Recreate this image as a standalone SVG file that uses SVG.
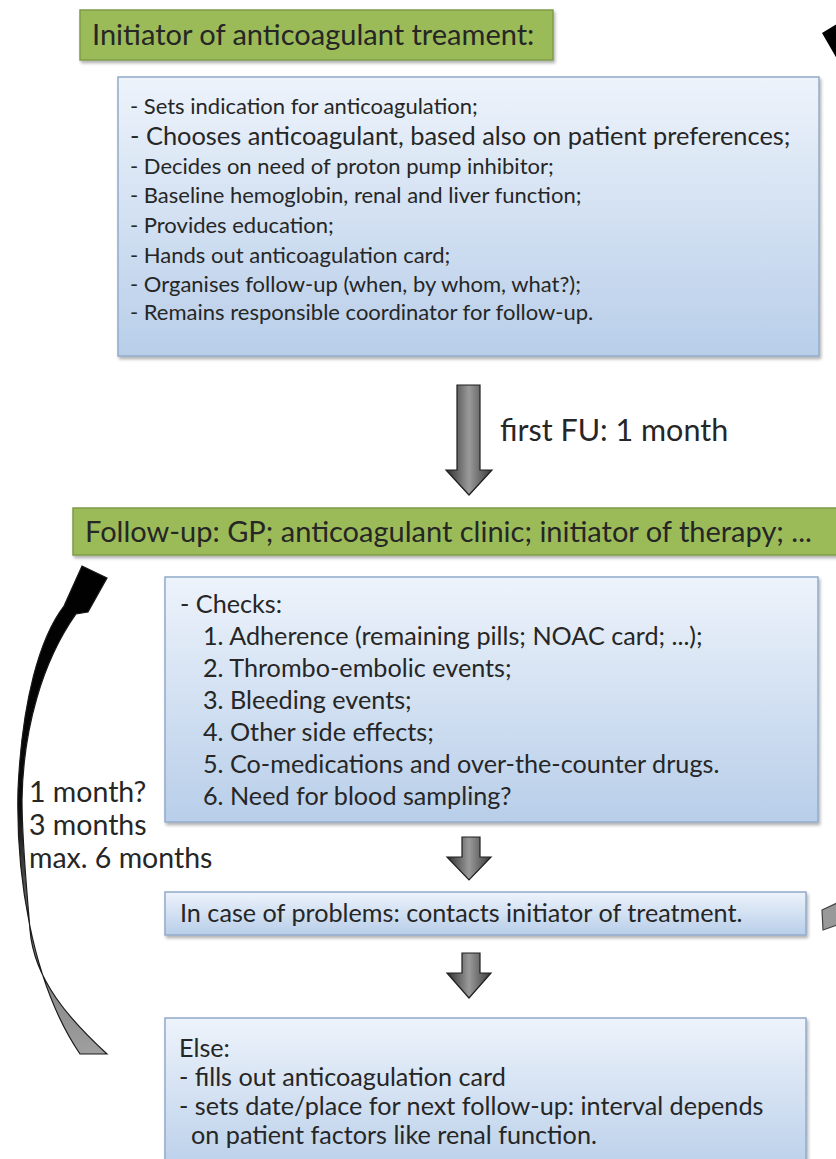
<svg xmlns="http://www.w3.org/2000/svg" width="836" height="1159" viewBox="0 0 836 1159">
<defs>
<linearGradient id="blueG" x1="0" y1="0" x2="0" y2="1">
<stop offset="0" stop-color="#edf3fb"/>
<stop offset="1" stop-color="#b8cee9"/>
</linearGradient>
<linearGradient id="arrowG" x1="0" y1="0" x2="1" y2="0">
<stop offset="0" stop-color="#2e2e2e"/>
<stop offset="0.5" stop-color="#9a9a9a"/>
<stop offset="1" stop-color="#3a3a3a"/>
</linearGradient>
<linearGradient id="curveG" gradientUnits="userSpaceOnUse" x1="0" y1="560" x2="0" y2="1055">
<stop offset="0" stop-color="#000"/>
<stop offset="0.5" stop-color="#0a0a0a"/>
<stop offset="0.72" stop-color="#6e6e6e"/>
<stop offset="1" stop-color="#a0a0a0"/>
</linearGradient>
<filter id="sh" x="-5%" y="-10%" width="110%" height="130%">
<feDropShadow dx="1.5" dy="2.5" stdDeviation="1.8" flood-color="#000" flood-opacity="0.3"/>
</filter>
</defs>
<style>
.t{font-family:Lato,"Liberation Sans",sans-serif;fill:#262626;}
.s{font-size:22px;}
.b{font-size:25.2px;}
.h{font-size:29px;}
.l{font-size:28.5px;}
.blue{fill:url(#blueG);stroke:#93abca;stroke-width:1.5;filter:url(#sh);}
.green{fill:#9bbb59;stroke:#7f9c47;stroke-width:1.5;filter:url(#sh);}
.arr{fill:url(#arrowG);stroke:#1e1e1e;stroke-width:1.2;}
</style>
<rect width="836" height="1159" fill="#fff"/>

<g id="connectors">
<path class="arr" d="M457,385 H480 V470 H492 L469,495 L446,470 H457 Z"/>
<path class="arr" d="M462,837 H480 V857 H491 L469,880 L447,857 H462 Z"/>
<path class="arr" d="M462,953 H480 V973 H491 L469,998 L447,973 H462 Z"/>
<path d="M64,606 C40,637 22,700 18,790 C16,870 30,980 80,1054 L107,1054 C70,1020 34,980 30,930 C26,880 22,840 22,800 C23,730 42,662 76,614 L88,612 L107,578 L82,566 Z" fill="url(#curveG)" stroke="#1a1a1a" stroke-width="1.2"/>
<path d="M822,33 L837,24 L837,59 Z" fill="#000"/>
<path d="M822,910 L837,903 L837,925 L823,930 Z" fill="#999" stroke="#444" stroke-width="1.2"/>
<text class="t" x="500" y="441" font-size="30.5">first FU: 1 month</text>
<text class="t l" x="29" y="802">1 month?</text>
<text class="t l" x="29" y="835">3 months</text>
<text class="t l" x="29" y="868">max. 6 months</text>
</g>

<g id="initiator-header">
<rect class="green" x="80" y="10" width="473" height="50"/>
<text class="t h" x="92" y="45">Initiator of anticoagulant treament:</text>
</g>

<g id="initiator-tasks">
<rect class="blue" x="118" y="77" width="701" height="279"/>
<text class="t s" x="130" y="114">- Sets indication for anticoagulation;</text>
<text class="t" x="130" y="145" font-size="25.4">- Chooses anticoagulant, based also on patient preferences;</text>
<text class="t s" x="130" y="174">- Decides on need of proton pump inhibitor;</text>
<text class="t s" x="130" y="203">- Baseline hemoglobin, renal and liver function;</text>
<text class="t s" x="130" y="233">- Provides education;</text>
<text class="t s" x="130" y="263">- Hands out anticoagulation card;</text>
<text class="t s" x="130" y="292">- Organises follow-up (when, by whom, what?);</text>
<text class="t s" x="130" y="320">- Remains responsible coordinator for follow-up.</text>
</g>

<g id="followup-header">
<rect class="green" x="73" y="508" width="780" height="47"/>
<text class="t h" x="85" y="542">Follow-up: GP; anticoagulant clinic; initiator of therapy; ...</text>
</g>

<g id="checks">
<rect class="blue" x="165" y="577" width="653" height="245"/>
<text class="t b" x="180" y="613">- Checks:</text>
<text class="t b" x="203" y="645">1. Adherence (remaining pills; NOAC card; ...);</text>
<text class="t b" x="203" y="677">2. Thrombo-embolic events;</text>
<text class="t b" x="203" y="709">3. Bleeding events;</text>
<text class="t b" x="203" y="741">4. Other side effects;</text>
<text class="t b" x="203" y="773">5. Co-medications and over-the-counter drugs.</text>
<text class="t b" x="203" y="805">6. Need for blood sampling?</text>
</g>

<g id="problems">
<rect class="blue" x="165" y="892" width="641" height="43"/>
<text class="t b" x="180" y="922">In case of problems: contacts initiator of treatment.</text>
</g>

<g id="else">
<rect class="blue" x="165" y="1018" width="641" height="160"/>
<text class="t b" x="179" y="1057">Else:</text>
<text class="t b" x="179" y="1086">- fills out anticoagulation card</text>
<text class="t b" x="179" y="1115">- sets date/place for next follow-up: interval depends</text>
<text class="t b" x="191" y="1144">on patient factors like renal function.</text>
</g>
</svg>
